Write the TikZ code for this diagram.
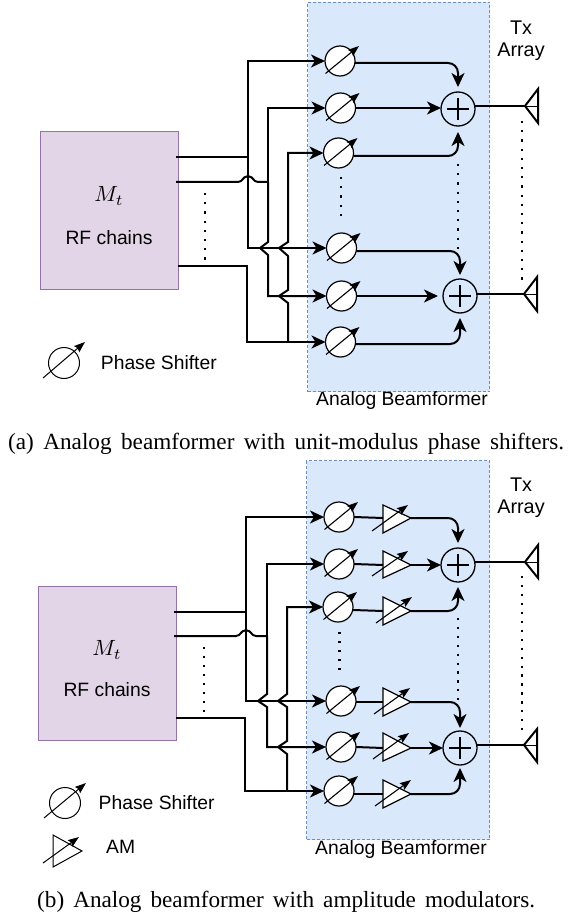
\documentclass[tikz,border=0pt]{standalone}
\usepackage{fontspec}
\setmainfont{Liberation Sans}
\newfontfamily\capfont{Liberation Serif}
\usetikzlibrary{arrows.meta,calc}
\definecolor{boxblue}{HTML}{DAE8FC}
\definecolor{boxblueline}{HTML}{6C8EBF}
\definecolor{rffill}{HTML}{E1D5E7}
\definecolor{rfline}{HTML}{9673A6}
\tikzset{
  wire/.style={line width=2pt},
  feedwire/.style={wire,-{Stealth[length=14pt,width=13pt,inset=4pt]}},
  thinarrow/.style={line width=1.1pt,-{Stealth[length=11pt,width=8pt,inset=1.5pt]}},
  phasenode/.style={circle,draw,line width=1.2pt,fill=white,minimum size=30pt,inner sep=0pt,outer sep=0pt},
  addnode/.style={circle,draw,line width=1.3pt,minimum size=34pt,inner sep=0pt,outer sep=0pt},
  bfbox/.style={draw=boxblueline,fill=boxblue,line width=1pt,dash pattern=on 3pt off 2pt,rectangle},
  rfbox/.style={draw=rfline,fill=rffill,line width=1.1pt,rectangle},
  label/.style={inner sep=0pt,font=\fontsize{19.3}{23}\selectfont},
  captext/.style={inner sep=0pt,anchor=west,font=\capfont\fontsize{23.2}{27}\selectfont},
  dotline/.style={line width=2.2pt,dash pattern=on 2.2pt off #1},
  antline/.style={line width=2pt,line join=miter},
  legendline/.style={line width=1pt},
}
% phase shifter: name, x, y
\newcommand\PSnode[3]{%
  \node[phasenode] (#1) at (#2,#3) {};
  \draw[thinarrow] ($(#1.center)+(-14.5,12.5)$) -- ($(#1.center)+(19,-15)$);
}
% adder: name, x, y
\newcommand\ADDnode[3]{%
  \node[addnode] (#1) at (#2,#3) {};
  \draw[line width=1.1pt] ($(#1.center)+(-11,0)$) -- ($(#1.center)+(11,0)$)
    ($(#1.center)+(0,-11)$) -- ($(#1.center)+(0,11)$);
}
% amplifier: name, x-left, y-top, y-bottom, y-tip, arrow start x
\newcommand\AMPnode[6]{%
  \coordinate (#1in) at (383,#5);
  \coordinate (#1out) at (411,#5);
  \draw[line width=1.2pt,fill=white,line join=miter] (#2,#3) -- (#2,#4) -- (#1out) -- cycle;
  \draw[thinarrow] (#6,#4-2) -- (#6+36,#3);
}
% antenna: name, tip x, tip y, y top, y bottom
\newcommand\ANTnode[5]{%
  \coordinate (#1) at (#2,#3);
  \draw[antline] (#2+13,#4) -- (#1) -- (#2+13,#5) -- cycle;
  \draw[line width=0.8pt] (#1) -- (#2+13,#3);
}
\begin{document}
\begin{tikzpicture}[x=1pt,y=-1pt]
\useasboundingbox (0,0) rectangle (572,920);

%%%%%%%%%% Panel (a)
\node[bfbox,minimum width=182pt,minimum height=389pt,anchor=north west] (bfa) at (307,2) {};
\node[rfbox,minimum width=138pt,minimum height=158pt,anchor=north west] (rfa) at (40,131) {};
\node[inner sep=0pt,scale=2.2] (mta) at (109,196) {$M_t$};
\node[label] (rfla) at (109,238) {RF chains};
\node[label,font=\fontsize{19.8}{24}\selectfont] (txa1) at (521,28) {Tx};
\node[label,font=\fontsize{19.8}{24}\selectfont] (txa2) at (521,52) {Array};
\node[label] (abla) at (402,401) {Analog Beamformer};

\PSnode{pa1}{340}{61}
\PSnode{pa2}{340.5}{108}
\PSnode{pa3}{338.5}{153}
\PSnode{pa4}{341.5}{248}
\PSnode{pa5}{341.5}{296}
\PSnode{pa6}{340.5}{342}
\ADDnode{sa1}{458}{109}
\ADDnode{sa2}{460}{296}
\ANTnode{anta1}{525}{106}{89}{123}
\ANTnode{anta2}{524}{294}{277}{311}

\coordinate (aO1) at (176,157);
\coordinate (aO2) at (176,182);
\coordinate (aO3) at (178,266);
\coordinate (aJ1) at (248,157);
\coordinate (aJ2) at (268,182);
\coordinate (aJ3) at (288,342);
\draw[wire] (aO1) -- (aJ1);
\draw[feedwire] (aJ1) |- (pa1.west);
\draw[feedwire] (aJ1) |- (pa4.west);
\draw[wire] (aO2) -- (238,182) -- (241,181) .. controls (244,178) and (245,176) .. (248,176)
  .. controls (251,176) and (252,178) .. (255,181) -- (258,182) -- (aJ2);
\draw[feedwire] (aJ2) |- (pa2.west);
\draw[feedwire,line join=miter] (aJ2) -- (268,242) -- (260,248) -- (268,255) |- (pa5.west);
\draw[feedwire] (aO3) -| (247,342) -- (pa6.west);
\draw[feedwire,line join=miter] (aJ3) -- (288,303) -- (279,296) -- (288,290) -- (288,256)
  -- (279,248) -- (288,242) |- (pa3.west);

\draw[feedwire,rounded corners=10pt,shorten >=5pt] ($(pa1.east)+(0,2)$) -| (sa1.north);
\draw[feedwire] (pa2.east) -- (pa2.east -| sa1.west);
\draw[feedwire,rounded corners=10pt,shorten >=6pt] ($(pa3.east)+(0,3)$) -| (sa1.south);
\draw[feedwire,rounded corners=10pt,shorten >=4pt] ($(pa4.east)+(0,3)$) -| (sa2.north);
\draw[feedwire,shorten >=5pt] (pa5.east) -- (sa2.west);
\draw[feedwire,rounded corners=10pt,shorten >=5pt] ($(pa6.east)+(0,2)$) -| (sa2.south);
\draw[wire] ($(sa1.east)+(-1,-3)$) -- (anta1);
\draw[wire] ($(sa2.east)+(-1,-2)$) -- (anta2);

\draw[dotline=7pt] (205,193) -- (205,260);
\draw[dotline=7pt] (341,177) -- (341,217);
\draw[dotline=7pt] (458,164) -- (458,249);
\draw[dotline=7pt] (522,121) -- (522,280);

\node[circle,draw,legendline,minimum size=31pt,inner sep=0pt] (lpa) at (64,363) {};
\draw[thinarrow,line width=1pt] (43,378) -- (85,342);
\node[label,anchor=west] (ltxa) at (100.7,362.5) {Phase Shifter};
\node[captext] (capa) at (8,444) {\makebox[556pt][s]{(a) Analog beamformer with unit-modulus phase shifters.}};

%%%%%%%%%% Panel (b)
\node[bfbox,minimum width=183pt,minimum height=379pt,anchor=north west] (bfb) at (306,460) {};
\node[rfbox,minimum width=138pt,minimum height=154pt,anchor=north west] (rfb) at (38,586) {};
\node[inner sep=0pt,scale=2.2] (mtb) at (107,650) {$M_t$};
\node[label] (rflb) at (107,690) {RF chains};
\node[label,font=\fontsize{19.8}{24}\selectfont] (txb1) at (521,485) {Tx};
\node[label,font=\fontsize{19.8}{24}\selectfont] (txb2) at (521,509) {Array};
\node[label] (ablb) at (401,849) {Analog Beamformer};

\PSnode{pb1}{339}{517}
\PSnode{pb2}{339}{564}
\PSnode{pb3}{338}{607}
\PSnode{pb4}{341}{701}
\PSnode{pb5}{341}{747}
\PSnode{pb6}{339}{791}
\AMPnode{ab1}{383}{505}{533}{518}{372}
\AMPnode{ab2}{383}{551}{578}{565}{372}
\AMPnode{ab3}{383}{597}{625}{611}{376}
\AMPnode{ab4}{383}{688}{716}{702}{374}
\AMPnode{ab5}{383}{733}{761}{748}{373}
\AMPnode{ab6}{383}{780}{808}{794}{375}
\ADDnode{sb1}{458}{565}
\ADDnode{sb2}{460}{748}
\ANTnode{antb1}{525}{562}{545}{578}
\ANTnode{antb2}{524}{745}{729}{762}

\coordinate (bO1) at (174,612);
\coordinate (bO2) at (174,636);
\coordinate (bO3) at (176,718);
\coordinate (bJ1) at (246,612);
\coordinate (bJ2) at (267,636);
\coordinate (bJ3) at (287,791);
\draw[wire] (bO1) -- (bJ1);
\draw[feedwire] (bJ1) |- (pb1.west);
\draw[feedwire] (bJ1) |- (pb4.west);
\draw[wire] (bO2) -- (236,636) -- (239,635) .. controls (242,632) and (243,630) .. (246,630)
  .. controls (249,630) and (250,632) .. (253,635) -- (256,636) -- (bJ2);
\draw[feedwire] (bJ2) |- (pb2.west);
\draw[feedwire,line join=miter] (bJ2) -- (267,694) -- (258,701) -- (267,707) |- (pb5.west);
\draw[feedwire] (bO3) -| (245,791) -- (pb6.west);
\draw[feedwire,line join=miter] (bJ3) -- (287,754) -- (278,747) -- (287,741) -- (287,707)
  -- (278,701) -- (287,694) |- (pb3.west);

\draw[wire] (pb1.east) -- (ab1in);
\draw[wire] (pb2.east) -- (ab2in);
\draw[wire] ($(pb3.east)+(0,3)$) -- (ab3in);
\draw[wire] ($(pb4.east)+(0,1)$) -- (ab4in);
\draw[wire] (pb5.east) -- (ab5in);
\draw[wire] ($(pb6.east)+(0,3)$) -- (ab6in);
\draw[feedwire,rounded corners=10pt,shorten >=5pt] (ab1out) -| (sb1.north);
\draw[feedwire] (ab2out) -- (sb1.west);
\draw[feedwire,rounded corners=10pt,shorten >=5pt] (ab3out) -| (sb1.south);
\draw[feedwire,rounded corners=10pt,shorten >=3pt] (ab4out) -| (sb2.north);
\draw[feedwire] (ab5out) -- (sb2.west);
\draw[feedwire,rounded corners=10pt,shorten >=3pt] (ab6out) -| (sb2.south);
\draw[wire] ($(sb1.east)+(-1,-3)$) -- (antb1);
\draw[wire] ($(sb2.east)+(-1,-3)$) -- (antb2);

\draw[dotline=6.8pt] (204,647) -- (204,713);
\draw[dotline=6.8pt] (339.5,632) -- (339.5,670);
\draw[dotline=6.7pt] (458,618) -- (458,701);
\draw[dotline=6.75pt] (522,576) -- (522,731);

\node[circle,draw,legendline,minimum size=31pt,inner sep=0pt] (lpb) at (65,803) {};
\draw[thinarrow,line width=1pt] (44,818) -- (86,783);
\node[label,anchor=west] (ltxb) at (98.5,803) {Phase Shifter};
\draw[legendline,line join=miter] (53,835) -- (53,867) -- (82,851) -- cycle;
\draw[thinarrow,line width=1pt] (43,863) -- (79,837);
\node[label,anchor=west] (ltxc) at (106,847) {AM};
\node[captext] (capb) at (37,902) {\makebox[498pt][s]{(b) Analog beamformer with amplitude modulators.}};
\end{tikzpicture}
\end{document}
